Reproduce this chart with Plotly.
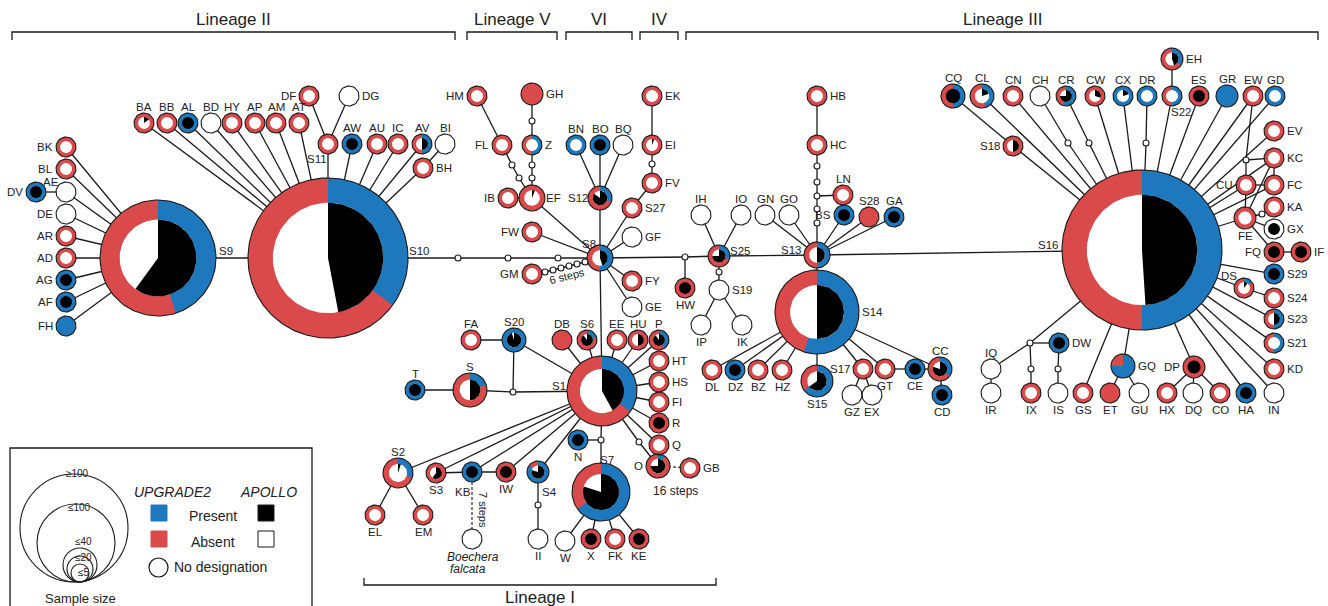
import math
import plotly.graph_objects as go

RED = "#DA4A4B"
BLUE = "#1E78BE"
INK = "#1a1a1a"
FONT = "Liberation Sans, Arial, Helvetica, sans-serif"
NA = None
TK = 0.006  # hair-line APOLLO tick seen in most small haplotypes

# ---------------- haplotype nodes (layout coordinates of the network) ----------------
node_id = [
    # Lineage II
    "S9", "S10", "BK", "BL", "AE", "DV", "DE", "AR", "AD", "AG", "AF", "FH",
    "BA", "BB", "AL", "BD", "HY", "AP", "AM", "AT", "DF", "DG", "S11", "AW", "AU", "IC", "AV", "BI", "BH",
    # Lineage V / VI / IV
    "S8", "HM", "GH", "Z", "FL", "EF", "IB", "S12", "BN", "BO", "BQ", "EK", "EI", "FV", "S27", "GF", "FW", "GM", "FY", "GE",
    # Lineage III (S13 / S14 group)
    "HW", "S25", "IH", "IO", "S19", "IP", "IK", "S13", "GN", "GO", "HB", "HC", "LN", "BS", "S28", "GA",
    "S14", "DL", "DZ", "BZ", "HZ", "S15", "S17", "GZ", "EX", "GT", "CE", "CC", "CD",
    # Lineage III (S16 group)
    "S16", "CQ", "CL", "CN", "CH", "CR", "CW", "CX", "DR", "S22", "EH", "ES", "GR", "EW", "GD", "S18",
    "EV", "KC", "CU", "FC", "KA", "FE", "GX", "FQ", "IF", "S29", "DS", "S24", "S23", "S21", "KD", "IN",
    "HA", "CO", "DQ", "HX", "DP", "GU", "ET", "GS", "GQ", "IS", "IX", "DW", "IQ", "IR",
    # Lineage I
    "S1", "S20", "FA", "S", "T", "DB", "S6", "EE", "HU", "P", "HT", "HS", "FI", "R", "Q", "O", "GB", "N",
    "S7", "W", "X", "FK", "KE", "S4", "II", "IW", "KB", "BF", "S3", "S2", "EL", "EM",
]
node_x = [
    158, 328, 66, 66, 66, 36, 66, 66, 66, 66, 66, 66,
    144, 167, 188, 211, 232, 255, 276, 299, 309, 349, 328, 352, 377, 398, 422, 445, 423,
    600, 477, 532, 532, 502, 532, 508, 600, 576, 600, 623, 652, 652, 652, 632, 632, 532, 532, 632, 632,
    685, 719, 701, 741, 719, 701, 742, 817, 765, 789, 817, 817, 843, 844, 869, 894,
    817, 712, 735, 758, 782, 817, 863, 852, 872, 885, 915, 940, 942,
    1142, 953, 982, 1013, 1040, 1066, 1095, 1123, 1147, 1172, 1172, 1199, 1227, 1253, 1275, 1013,
    1274, 1274, 1246, 1274, 1274, 1245, 1274, 1274, 1301, 1274, 1244, 1274, 1274, 1274, 1274, 1274,
    1246, 1220, 1193, 1167, 1194, 1139, 1110, 1083, 1123, 1058, 1031, 1059, 991, 991,
    602, 514, 471, 470, 415, 562, 587, 617, 638, 659, 659, 659, 659, 659, 659, 658, 690, 578,
    601, 565, 591, 615, 639, 538, 538, 506, 472, 472, 436, 398, 375, 423,
]
node_y = [
    258, 258, 147, 169, 192, 192, 214, 236, 258, 280, 302, 326,
    123, 123, 123, 123, 123, 123, 123, 123, 96, 96, 144, 144, 144, 144, 144, 144, 168,
    258, 96, 94, 145, 145, 198, 198, 198, 145, 145, 145, 96, 145, 183, 208, 237, 232, 274, 281, 307,
    288, 256, 215, 215, 290, 325, 325, 255, 215, 215, 96, 145, 195, 215, 217, 217,
    312, 370, 370, 370, 370, 381, 369, 395, 395, 369, 369, 369, 395,
    250, 96, 96, 96, 96, 96, 96, 96, 96, 96, 59, 96, 96, 96, 96, 146,
    131, 158, 185, 185, 207, 218, 229, 252, 252, 274, 288, 298, 319, 343, 369, 393,
    393, 393, 393, 393, 367, 393, 393, 393, 366, 393, 393, 343, 369, 393,
    391, 340, 340, 390, 390, 340, 340, 340, 340, 340, 361, 382, 402, 423, 445, 466, 468, 440,
    492, 541, 539, 539, 539, 472, 539, 472, 472, 539, 473, 473, 515, 515,
]
# circle radius (sample size class)
node_r = [
    58, 80, 10, 10, 10, 10, 10, 10, 10, 10, 10, 10,
    10, 10, 10, 10, 10, 10, 10, 10, 10, 10, 10, 10, 10, 10, 10, 10, 10,
    13, 10, 11, 10, 10, 13, 10, 12, 10, 10, 10, 10, 10, 10, 10, 10, 10, 10, 10, 10,
    10, 11, 10, 10, 10, 10, 10, 13, 10, 10, 10, 10, 10, 10, 10, 10,
    42, 10, 10, 10, 10, 16, 10, 10, 10, 10, 10, 12, 10,
    80, 12, 12, 10, 10, 10, 10, 10, 10, 10, 11, 10, 11, 10, 10, 10,
    10, 10, 10, 10, 10, 11, 10, 10, 10, 10, 10, 10, 10, 10, 10, 10,
    10, 10, 10, 10, 11, 10, 10, 10, 12, 10, 10, 10, 10, 10,
    35, 12, 10, 17, 10, 10, 10, 10, 10, 10, 10, 10, 10, 10, 10, 12, 10, 10,
    29, 10, 10, 10, 10, 11, 10, 10, 10, 10, 10, 15, 10, 10,
]
# UPGRADE2 present fraction (outer ring: blue = present, red = absent; None = no designation)
upgrade2_present = [
    .45, .35, 0, 0, NA, 1, NA, 0, 0, 1, 1, 1,
    0, 0, 1, NA, 0, 0, 0, 0, 0, NA, 0, 1, 0, 0, .5, NA, 0,
    .5, 0, 0, .5, 0, 0, 0, .3, 1, 1, NA, 0, 0, 0, 0, NA, 0, 0, 0, NA,
    0, .3, NA, NA, NA, NA, NA, .5, NA, NA, 0, 0, 0, 1, 0, 1,
    .55, 0, 1, 0, 0, .65, 0, NA, NA, 0, 1, .35, 1,
    .5, .5, .45, 0, NA, .55, 0, 1, 1, .5, .35, 0, 1, 0, 1, 0,
    0, 0, 0, 0, 0, 0, NA, 0, 0, 1, .15, 0, .5, .5, 0, NA,
    1, 0, NA, 0, 0, NA, 0, 0, .75, NA, 0, 1, NA, NA,
    .35, 1, 0, .2, 1, 0, .2, 0, 0, .4, 0, 0, 0, 0, 0, .1, 0, 1,
    .65, NA, 0, 0, 0, .85, NA, 0, 1, NA, 0, .3, 0, 0,
]
# APOLLO present fraction (inner disc: black = present, white = absent; None = no inner disc)
apollo_present = [
    .6, .47, TK, TK, NA, 1, NA, TK, TK, 1, 1, NA,
    .15, TK, 1, NA, TK, TK, TK, TK, TK, NA, TK, 1, TK, TK, .5, NA, TK,
    .45, TK, NA, 0, TK, .06, TK, .85, 0, 1, NA, TK, .06, TK, TK, NA, TK, TK, TK, NA,
    1, .75, NA, NA, NA, NA, NA, .5, NA, NA, TK, TK, TK, 1, NA, 1,
    .5, TK, 1, TK, TK, .65, TK, NA, NA, TK, 1, .8, 1,
    .49, 1, .2, TK, NA, .75, .3, .2, 0, 0, .45, 1, NA, TK, 0, .5,
    TK, TK, TK, TK, TK, TK, 1, 1, 1, 1, .1, TK, .5, 0, TK, NA,
    1, TK, NA, TK, 1, NA, NA, TK, NA, NA, TK, 1, NA, NA,
    .42, .95, TK, .5, 1, NA, .9, TK, .5, .9, TK, TK, TK, 1, TK, .75, TK, 1,
    .8, NA, 1, TK, 1, .8, NA, 1, 1, NA, .6, .05, TK, TK,
]
label_side = [
    "c", "c", "l", "l", "c", "l", "l", "l", "l", "l", "l", "l",
    "t", "t", "t", "t", "t", "t", "t", "t", "l", "r", "c", "t", "t", "t", "t", "t", "r",
    "c", "l", "r", "r", "l", "r", "l", "l", "t", "t", "t", "r", "r", "r", "r", "r", "l", "l", "r", "r",
    "b", "c", "t", "t", "r", "b", "b", "c", "t", "t", "r", "r", "t", "l", "t", "t",
    "r", "b", "b", "b", "b", "b", "l", "b", "b", "b", "b", "t", "b",
    "c", "t", "t", "t", "t", "t", "t", "t", "t", "c", "r", "t", "t", "t", "t", "l",
    "r", "r", "l", "r", "r", "b", "r", "l", "r", "r", "c", "r", "r", "r", "r", "b",
    "b", "b", "b", "b", "l", "b", "b", "b", "r", "b", "b", "r", "t", "b",
    "c", "t", "t", "t", "t", "t", "t", "t", "t", "t", "r", "r", "r", "r", "r", "l", "r", "b",
    "c", "b", "b", "b", "b", "c", "b", "b", "c", "-", "b", "t", "b", "b",
]
label_custom = {
    "S9": (226, 251), "S10": (419, 251), "AE": (51, 182), "S11": (317, 159),
    "S8": (589, 244), "S25": (740, 251), "S13": (791, 250), "S16": (1048, 245),
    "S22": (1181, 112), "DS": (1229, 276), "S1": (559, 386), "S7": (607, 460),
    "S4": (549, 492), "KB": (463, 492), "S12": (578, 198), "EF": (553, 198),
}

# ---------------- mutation steps (small open circles) ----------------
step_id = ["m1", "m2", "m3", "g1", "z1", "z2", "f1", "f2", "e1",
           "k1", "k2", "k3", "k4", "k5", "k6", "h1", "s1",
           "c1", "c2", "c3", "c4", "c5", "j1", "n1", "o1", "a1",
           "ch1", "cr1", "dr1", "ew1", "fe1", "dw1", "ix1", "is1"]
step_x = [458, 508, 558, 532, 532, 532, 512, 519, 652,
          585, 577, 569, 561, 553, 545, 685, 719,
          817, 817, 817, 817, 817, 513, 601, 639, 538,
          1068, 1089, 1146, 1246, 1262, 1030, 1031, 1058]
step_y = [258, 258, 258, 121, 165, 178, 165, 178, 164,
          262, 264, 266, 268, 270, 272, 257, 272,
          166, 182, 196, 209, 223, 392, 440, 442, 505,
          143, 143, 143, 160, 214, 343, 369, 369]

# ---------------- network links ----------------
edges = [
    ("S9", "S10"), ("S9", "BK"), ("S9", "BL"), ("S9", "AE"), ("S9", "DE"), ("S9", "AR"), ("S9", "AD"),
    ("S9", "AG"), ("S9", "AF"), ("S9", "FH"), ("AE", "DV"),
    ("S10", "BA"), ("S10", "BB"), ("S10", "AL"), ("S10", "BD"), ("S10", "HY"), ("S10", "AP"), ("S10", "AM"),
    ("S10", "AT"), ("S10", "S11"), ("S10", "AW"), ("S10", "AU"), ("S10", "IC"), ("S10", "AV"), ("S10", "BH"),
    ("S11", "DF"), ("S11", "DG"), ("BH", "BI"),
    ("S10", "m1"), ("m1", "m2"), ("m2", "m3"), ("m3", "S8"),
    ("S8", "EF"), ("EF", "IB"), ("EF", "f2"), ("f2", "f1"), ("f1", "FL"), ("FL", "HM"),
    ("EF", "z2"), ("z2", "z1"), ("z1", "Z"), ("Z", "g1"), ("g1", "GH"),
    ("S8", "FW"), ("S8", "k1"), ("k1", "k2"), ("k2", "k3"), ("k3", "k4"), ("k4", "k5"), ("k5", "k6"), ("k6", "GM"),
    ("S8", "S12"), ("S12", "BN"), ("S12", "BO"), ("S12", "BQ"),
    ("S8", "S27"), ("S27", "FV"), ("FV", "e1"), ("e1", "EI"), ("EI", "EK"),
    ("S8", "GF"), ("S8", "FY"), ("S8", "GE"), ("S8", "h1"), ("h1", "HW"), ("h1", "S25"),
    ("S25", "IH"), ("S25", "IO"), ("S25", "s1"), ("s1", "S19"), ("S19", "IP"), ("S19", "IK"),
    ("S25", "S13"), ("S13", "GN"), ("S13", "GO"), ("S13", "c5"), ("c5", "c4"), ("c4", "c3"), ("c3", "c2"),
    ("c2", "c1"), ("c1", "HC"), ("HC", "HB"), ("c3", "LN"), ("S13", "BS"), ("S13", "S28"), ("S13", "GA"),
    ("S13", "S14"), ("S14", "DL"), ("S14", "DZ"), ("S14", "BZ"), ("S14", "HZ"), ("S14", "S15"),
    ("S14", "S17"), ("S17", "GZ"), ("S17", "EX"), ("S14", "GT"), ("GT", "CE"), ("CE", "CC"),
    ("S14", "CC"), ("CC", "CD"), ("S13", "S16"),
    ("S16", "S18"), ("S18", "CQ"), ("S16", "CL"), ("S16", "CN"), ("S16", "ch1"), ("ch1", "CH"),
    ("S16", "cr1"), ("cr1", "CR"), ("S16", "CW"), ("S16", "CX"), ("S16", "dr1"), ("dr1", "DR"),
    ("S16", "S22"), ("S22", "EH"), ("S16", "ES"), ("S16", "GR"), ("S16", "EW"), ("S16", "GD"),
    ("EW", "ew1"), ("ew1", "KC"), ("ew1", "CU"), ("S16", "EV"), ("S16", "KC"), ("S16", "CU"),
    ("S16", "FC"), ("CU", "FC"), ("KC", "FC"), ("KC", "FE"), ("CU", "FE"), ("S16", "FE"),
    ("FE", "fe1"), ("fe1", "KA"), ("FE", "GX"), ("FE", "FQ"), ("FQ", "IF"),
    ("S16", "S29"), ("S16", "DS"), ("DS", "S24"), ("S16", "S23"), ("S16", "S21"), ("S16", "KD"),
    ("S16", "IN"), ("S16", "HA"), ("S16", "DP"), ("DP", "HX"), ("DP", "DQ"), ("DP", "CO"),
    ("S16", "GQ"), ("GQ", "ET"), ("GQ", "GU"), ("S16", "GS"), ("S16", "dw1"), ("dw1", "IQ"),
    ("IQ", "IR"), ("dw1", "DW"), ("dw1", "ix1"), ("ix1", "IX"), ("DW", "is1"), ("is1", "IS"),
    ("S8", "S1"), ("S1", "S20"), ("S20", "FA"), ("S20", "j1"), ("S", "j1"), ("j1", "S1"), ("T", "S"),
    ("S1", "DB"), ("S1", "S6"), ("S1", "EE"), ("S1", "HU"), ("S1", "P"), ("S1", "HT"), ("S1", "HS"),
    ("S1", "FI"), ("S1", "R"), ("S1", "Q"), ("S1", "o1"), ("o1", "O"),
    ("S1", "n1"), ("n1", "N"), ("n1", "S7"), ("S7", "W"), ("S7", "X"), ("S7", "FK"), ("S7", "KE"),
    ("S1", "S4"), ("S4", "a1"), ("a1", "II"), ("S1", "IW"), ("S1", "KB"), ("S1", "S3"), ("S1", "S2"),
    ("S3", "KB"), ("KB", "IW"), ("S2", "EL"), ("S2", "EM"),
]
dashed_edges = [("KB", "BF"), ("O", "GB")]

# ---------------- lineage brackets ----------------
lineage_name = ["Lineage II", "Lineage V", "VI", "IV", "Lineage III", "Lineage I"]
lineage_x0 = [12, 467, 566, 640, 686, 364]
lineage_x1 = [455, 557, 632, 678, 1318, 716]
lineage_at_top = [True, True, True, True, True, False]

# ---------------- legend ----------------
size_class = ["≥100", "≤100", "≤40", "≤20", "≤5"]
size_class_r = [54, 39, 17, 13, 9]

assert len(node_id) == len(node_x) == len(node_y) == len(node_r) == len(upgrade2_present) \
    == len(apollo_present) == len(label_side)

pos = {n: (x, y) for n, x, y in zip(node_id, node_x, node_y)}
pos.update({n: (x, y) for n, x, y in zip(step_id, step_x, step_y)})


def arc(cx, cy, r, f0, f1):
    n = max(3, int(math.ceil((f1 - f0) * max(40, 2.4 * r))))
    pts = []
    for i in range(n + 1):
        a = 2 * math.pi * (f0 + (f1 - f0) * i / n)
        pts.append((cx + r * math.sin(a), cy - r * math.cos(a)))
    return pts


def wedge(cx, cy, r, f0, f1):
    if f1 - f0 >= 0.999:
        return arc(cx, cy, r, 0, 1)
    return [(cx, cy)] + arc(cx, cy, r, f0, f1) + [(cx, cy)]


layers = {k: ([], []) for k in ["ring_red", "ring_blue", "ring_white", "in_white", "in_black", "outline"]}


def put(layer, pts):
    xs, ys = layers[layer]
    for px, py in pts:
        xs.append(px)
        ys.append(py)
    xs.append(None)
    ys.append(None)


for n, x, y, r, ub, ab in zip(node_id, node_x, node_y, node_r, upgrade2_present, apollo_present):
    rin = r * (0.6 + 0.09 * min(1.0, (r - 10) / 70.0))
    if ub is None:
        put("ring_white", arc(x, y, r, 0, 1))
    else:
        if ub < 1:
            put("ring_red", arc(x, y, r, 0, 1))
        if ub > 0:
            put("ring_blue", wedge(x, y, r, 0, ub))
    if ab is not None:
        if ab < 1:
            put("in_white", arc(x, y, rin, 0, 1))
        if ab > 0:
            put("in_black", wedge(x, y, rin, 0, ab))
    put("outline", arc(x, y, r, 0, 1))

fig = go.Figure()

# links
ex, ey = [], []
for a, b in edges:
    ex += [pos[a][0], pos[b][0], None]
    ey += [pos[a][1], pos[b][1], None]
fig.add_trace(go.Scatter(x=ex, y=ey, mode="lines", line=dict(color=INK, width=1.3),
                         hoverinfo="skip", showlegend=False))
dx, dy = [], []
for a, b in dashed_edges:
    dx += [pos[a][0], pos[b][0], None]
    dy += [pos[a][1], pos[b][1], None]
fig.add_trace(go.Scatter(x=dx, y=dy, mode="lines", line=dict(color=INK, width=1.1, dash="3px,2px"),
                         hoverinfo="skip", showlegend=False))

fill_color = {"ring_red": RED, "ring_blue": BLUE, "ring_white": "white",
              "in_white": "white", "in_black": "black"}
for key in ["ring_red", "ring_blue", "ring_white", "in_white", "in_black"]:
    xs, ys = layers[key]
    fig.add_trace(go.Scatter(x=xs, y=ys, mode="lines", fill="toself", fillcolor=fill_color[key],
                             line=dict(width=0, color=fill_color[key]), hoverinfo="skip",
                             showlegend=False))
xs, ys = layers["outline"]
fig.add_trace(go.Scatter(x=xs, y=ys, mode="lines", line=dict(color=INK, width=1.1),
                         hoverinfo="skip", showlegend=False))

# mutation steps
fig.add_trace(go.Scatter(x=step_x, y=step_y, mode="markers",
                         marker=dict(size=6, color="white", line=dict(color=INK, width=1.1)),
                         hoverinfo="skip", showlegend=False))

annotations = []


def text(x, y, s, size=11.5, xanchor="center", italic=False, angle=0):
    annotations.append(dict(x=x, y=y, xref="x", yref="y", text=("<i>%s</i>" % s) if italic else s,
                            showarrow=False, xanchor=xanchor, yanchor="middle", textangle=angle,
                            font=dict(family=FONT, size=size, color="#222")))


for n, x, y, r, side in zip(node_id, node_x, node_y, node_r, label_side):
    if side == "-":
        continue
    if n in label_custom:
        lx, ly = label_custom[n]
        text(lx, ly, n)
    elif side == "l":
        text(x - r - 1, y, n, xanchor="right")
    elif side == "r":
        text(x + r + 1, y, n, xanchor="left")
    elif side == "t":
        text(x, y - r - 6, n)
    elif side == "b":
        text(x, y + r + 7, n)

text(473, 557, "Boechera", size=12, italic=True)
text(468, 569, "falcata", size=12, italic=True)
text(483, 510, "7 steps", size=11, angle=90)
text(567, 276, "6 steps", size=11, angle=-14)
text(675, 491, "16 steps", size=12)

# lineage brackets
shapes = []
for name, x0, x1, top in zip(lineage_name, lineage_x0, lineage_x1, lineage_at_top):
    yb, yt, ytxt = (32, 40, 19) if top else (585, 578, 597)
    shapes.append(dict(type="path", xref="x", yref="y",
                       path="M %d %d L %d %d L %d %d L %d %d" % (x0, yt, x0, yb, x1, yb, x1, yt),
                       line=dict(color=INK, width=1.3)))
    text((x0 + x1) / 2, ytxt, name, size=17)

# legend box
shapes.append(dict(type="rect", xref="x", yref="y", x0=10, y0=448, x1=312, y1=640,
                   line=dict(color=INK, width=1.3), fillcolor="rgba(0,0,0,0)"))
size_cx = [74, 76, 80, 80, 80]
size_lbl_y = [473, 507, 541, 557, 572]
for lbl, r, cx, ly in zip(size_class, size_class_r, size_cx, size_lbl_y):
    shapes.append(dict(type="circle", xref="x", yref="y", x0=cx - r, x1=cx + r, y0=582 - 2 * r, y1=582,
                       line=dict(color=INK, width=1.1)))
    text(cx + 3, ly, lbl, size=10)
text(80, 598, "Sample size", size=13)
text(172, 492, "UPGRADE2", size=14, italic=True)
text(268, 492, "APOLLO", size=14, italic=True)
for (sx, sy, col) in [(159, 513, BLUE), (159, 539, RED), (266, 513, "black"), (266, 539, "white")]:
    shapes.append(dict(type="rect", xref="x", yref="y", x0=sx - 8, x1=sx + 8, y0=sy - 8, y1=sy + 8,
                       fillcolor=col, line=dict(color=INK if col in ("black", "white") else col, width=1)))
text(213, 516, "Present", size=14)
text(213, 542, "Absent", size=14)
shapes.append(dict(type="circle", xref="x", yref="y", x0=149, x1=168, y0=558, y1=577,
                   line=dict(color=INK, width=1.2), fillcolor="white"))
text(172, 567, "No designation", size=14, xanchor="left")

fig.update_layout(
    width=1328, height=606, autosize=False,
    margin=dict(l=0, r=0, t=0, b=0),
    paper_bgcolor="white", plot_bgcolor="white",
    xaxis=dict(range=[0, 1328], visible=False, fixedrange=True),
    yaxis=dict(range=[606, 0], visible=False, fixedrange=True),
    showlegend=False, shapes=shapes, annotations=annotations,
)

fig.write_html("out.html", config={"displayModeBar": False},
               post_script="document.body.style.margin='0';document.body.style.overflow='hidden';")
